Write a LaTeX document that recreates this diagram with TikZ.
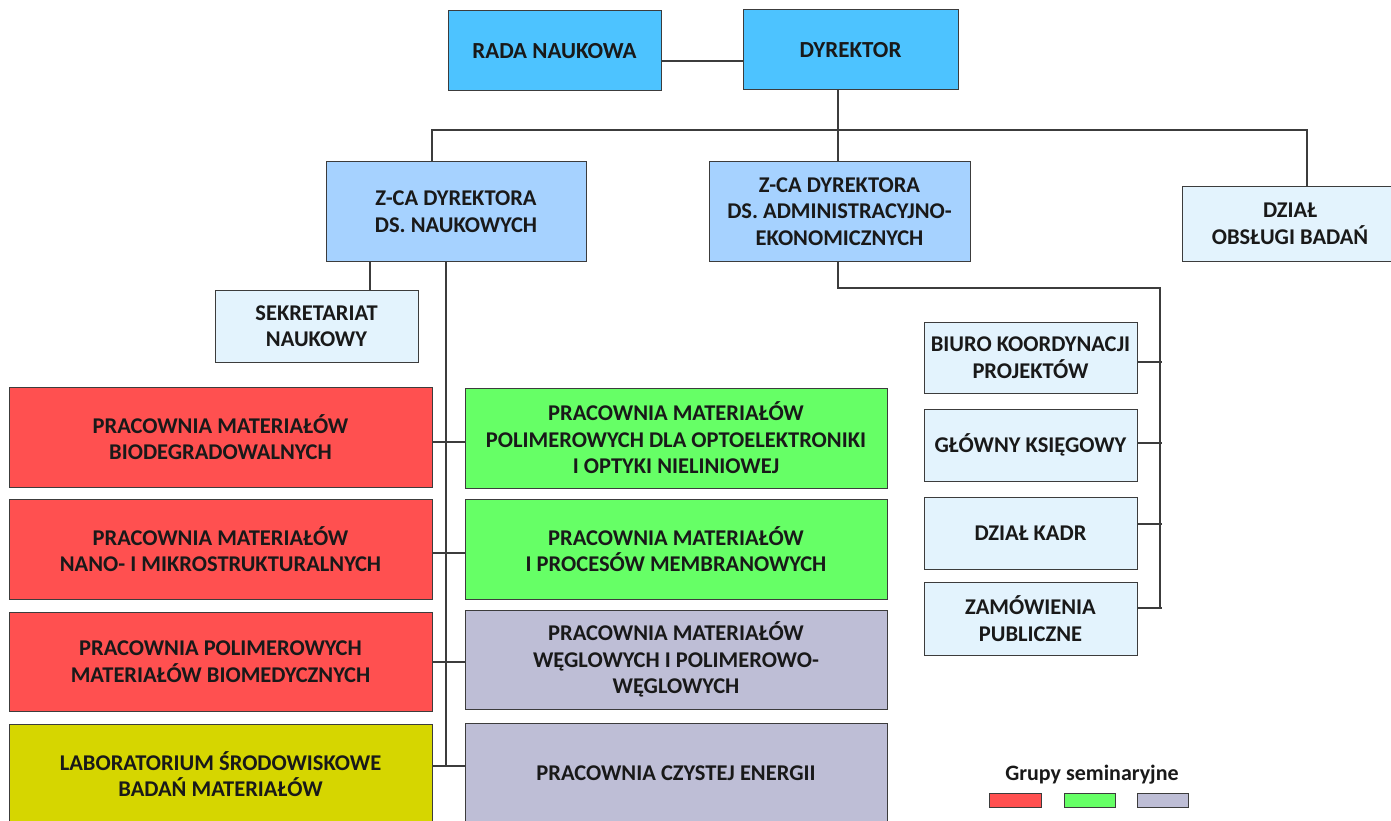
\documentclass[tikz,border=0pt]{standalone}
\usepackage{fontspec}
\setmainfont{Carlito}
\definecolor{cyanbox}{RGB}{77,195,255}
\definecolor{zbox}{RGB}{166,210,255}
\definecolor{paleb}{RGB}{227,243,253}
\definecolor{redb}{RGB}{255,80,80}
\definecolor{greenb}{RGB}{102,255,102}
\definecolor{grayb}{RGB}{190,190,214}
\definecolor{yelb}{RGB}{214,214,0}
\definecolor{edge}{RGB}{60,60,60}
\definecolor{txt}{RGB}{25,25,25}
\begin{document}
\begin{tikzpicture}[x=1pt,y=-1pt,
  box/.style={draw=edge,line width=1pt,rectangle,inner sep=0pt,align=center,
    font=\fontsize{22.5}{26.5}\selectfont\bfseries,text=txt},
  conn/.style={draw=edge,line width=1.3pt}]
\useasboundingbox (0,0) rectangle (1391,821);
\begin{scope}
\clip (0,0) rectangle (1391,821);
% top
\node[box,fill=cyanbox,minimum width=213pt,minimum height=80pt,font=\fontsize{23}{26}\selectfont\bfseries] (rada) at (554.5,51) {RADA NAUKOWA};
\node[box,fill=cyanbox,minimum width=215pt,minimum height=80pt,font=\fontsize{23}{26}\selectfont\bfseries] (dyr) at (850.5,50) {DYREKTOR};
% deputies
\node[box,fill=zbox,minimum width=260pt,minimum height=99pt] (zn) at (456,211.5) {Z-CA DYREKTORA\\DS. NAUKOWYCH};
\node[box,fill=zbox,minimum width=261pt,minimum height=99pt] (za) at (839.5,211.5) {Z-CA DYREKTORA\\DS. ADMINISTRACYJNO-\\EKONOMICZNYCH};
\node[box,fill=paleb,minimum width=216pt,minimum height=74pt] (dob) at (1290,224) {DZIAŁ\\OBSŁUGI BADAŃ};
\node[box,fill=paleb,minimum width=203pt,minimum height=72pt] (sek) at (316.5,326) {SEKRETARIAT\\NAUKOWY};
% left column
\node[box,fill=redb,minimum width=423pt,minimum height=100pt] (l1) at (220.5,437) {PRACOWNIA MATERIAŁÓW\\BIODEGRADOWALNYCH};
\node[box,fill=redb,minimum width=423pt,minimum height=100pt] (l2) at (220.5,549) {PRACOWNIA MATERIAŁÓW\\NANO- I MIKROSTRUKTURALNYCH};
\node[box,fill=redb,minimum width=423pt,minimum height=99pt] (l3) at (220.5,661.5) {PRACOWNIA POLIMEROWYCH\\MATERIAŁÓW BIOMEDYCZNYCH};
\node[box,fill=yelb,minimum width=423pt,minimum height=100pt] (l4) at (220.5,774) {LABORATORIUM ŚRODOWISKOWE\\BADAŃ MATERIAŁÓW};
% right column
\node[box,fill=greenb,minimum width=422pt,minimum height=100pt] (r1) at (676,438) {PRACOWNIA MATERIAŁÓW\\POLIMEROWYCH DLA OPTOELEKTRONIKI\\I OPTYKI NIELINIOWEJ};
\node[box,fill=greenb,minimum width=422pt,minimum height=100pt] (r2) at (676,549) {PRACOWNIA MATERIAŁÓW\\I PROCESÓW MEMBRANOWYCH};
\node[box,fill=grayb,minimum width=422pt,minimum height=99pt] (r3) at (676,659.5) {PRACOWNIA MATERIAŁÓW\\WĘGLOWYCH I POLIMEROWO-\\WĘGLOWYCH};
\node[box,fill=grayb,minimum width=422pt,minimum height=100pt] (r4) at (676,773) {PRACOWNIA CZYSTEJ ENERGII};
% admin column
\node[box,fill=paleb,minimum width=213pt,minimum height=71pt] (a1) at (1030.5,357.5) {BIURO KOORDYNACJI\\PROJEKTÓW};
\node[box,fill=paleb,minimum width=213pt,minimum height=72pt] (a2) at (1030.5,445) {GŁÓWNY KSIĘGOWY};
\node[box,fill=paleb,minimum width=213pt,minimum height=72pt] (a3) at (1030.5,533) {DZIAŁ KADR};
\node[box,fill=paleb,minimum width=213pt,minimum height=73pt] (a4) at (1030.5,618.5) {ZAMÓWIENIA\\PUBLICZNE};
% connectors
\coordinate (bar) at (838,130);
\coordinate (trunk) at (446,766);
\coordinate (at) at (1160,288);
\coordinate (ab) at (1160,608);
\draw[conn] (rada.east |- 0,61) -- (dyr.west |- 0,61);
\draw[conn] (dyr.south -| bar) -- (za.north -| bar);
\draw[conn] (zn.north -| 432,0) -- (432,130) -- (1307,130) -- (dob.north -| 1307,0);
\draw[conn] (zn.south -| 370,0) -- (sek.north -| 370,0);
\draw[conn] (zn.south -| trunk) -- (trunk);
\draw[conn] (l1.east |- 0,442) -- (r1.west |- 0,442);
\draw[conn] (l2.east |- 0,553) -- (r2.west |- 0,553);
\draw[conn] (l3.east |- 0,662) -- (r3.west |- 0,662);
\draw[conn] (l4.east |- 0,766) -- (r4.west |- 0,766);
\draw[conn] (za.south -| bar) |- (at) -- (ab);
\draw[conn] (a1.east |- 0,362) -- (1162,362);
\draw[conn] (a2.east |- 0,443) -- (1162,443);
\draw[conn] (a3.east |- 0,524) -- (1162,524);
\draw[conn] (a4.east |- 0,608) -- (1162,608);
% legend
\node[font=\fontsize{22}{24}\selectfont\bfseries,text=txt] (leg) at (1092,775) {Grupy seminaryjne};
\node[draw=edge,line width=1pt,fill=redb,minimum width=52pt,minimum height=14pt,inner sep=0pt] (s1) at (1015,800) {};
\node[draw=edge,line width=1pt,fill=greenb,minimum width=51pt,minimum height=14pt,inner sep=0pt] (s2) at (1089.5,800) {};
\node[draw=edge,line width=1pt,fill=grayb,minimum width=51pt,minimum height=14pt,inner sep=0pt] (s3) at (1162.5,800) {};
\end{scope}
\end{tikzpicture}
\end{document}
